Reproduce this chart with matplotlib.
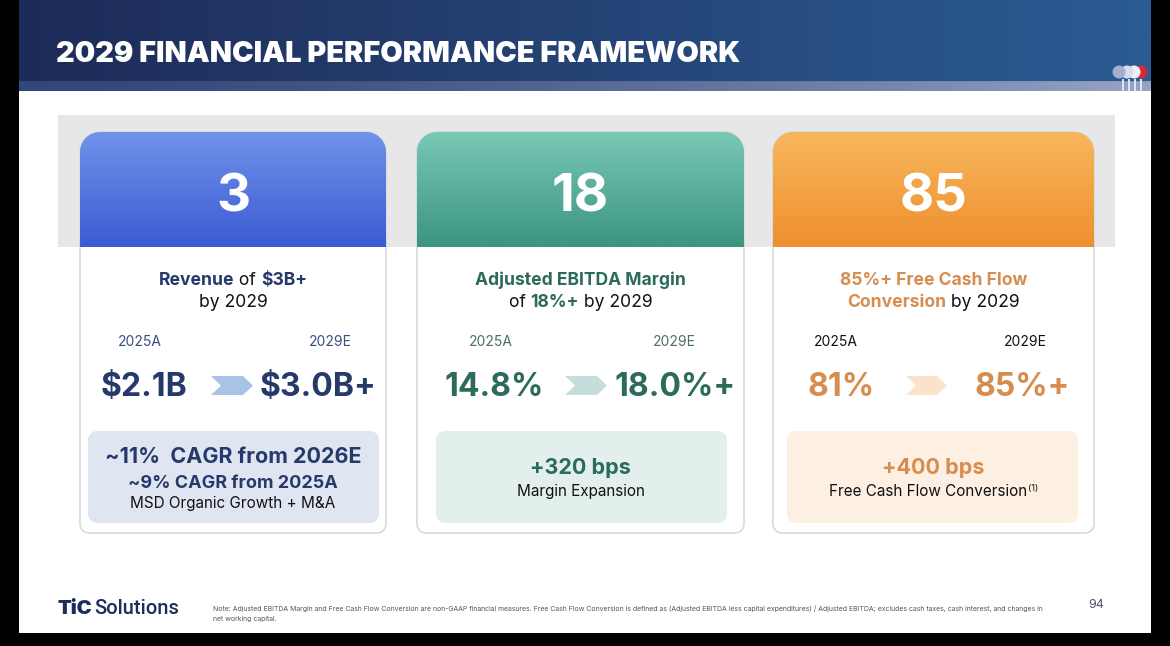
import numpy as np
import matplotlib
matplotlib.use("Agg")
import matplotlib.pyplot as plt
from matplotlib.patches import PathPatch, Polygon, Rectangle, Circle
from matplotlib.path import Path
from matplotlib import font_manager

W, H = 1170, 646

# slide content
slide_title = "2029 FINANCIAL PERFORMANCE FRAMEWORK"
big_numbers = ["3", "18", "85"]
year_labels = ["2025A", "2029E"]
start_values = ["$2.1B", "14.8%", "81%"]
end_values = ["$3.0B+", "18.0%+", "85%+"]

# headline lines per card: (text, bold?, accent?)
headline_1 = [[("Revenue", True, True), (" of ", False, False), ("$3B+", True, True)],
              [("by 2029", False, False)]]
headline_2 = [[("Adjusted EBITDA Margin", True, True)],
              [("of ", False, False), ("18%+", True, True), (" by 2029", False, False)]]
headline_3 = [[("85%+ Free Cash Flow", True, True)],
              [("Conversion", True, True), (" by 2029", False, False)]]
headlines = [headline_1, headline_2, headline_3]

# bottom box lines per card: (text, size, bold?, accent?, baseline)
box_1 = [("~11%  CAGR from 2026E", 15.5, True, True, 463),
         ("~9% CAGR from 2025A", 13, True, True, 488),
         ("MSD Organic Growth + M&A", 11, False, False, 508)]
box_2 = [("+320 bps", 15.5, True, True, 474),
         ("Margin Expansion", 11, False, False, 496)]
box_3 = [("+400 bps", 15.5, True, True, 474),
         ("Free Cash Flow Conversion", 11, False, False, 496)]
boxes = [box_1, box_2, box_3]

footnote = ["Note: Adjusted EBITDA Margin and Free Cash Flow Conversion are non-GAAP financial measures. "
            "Free Cash Flow Conversion is defined as (Adjusted EBITDA less capital expenditures) / Adjusted EBITDA; "
            "excludes cash taxes, cash interest, and changes in",
            "net working capital."]
page_number = "94"

# layout / styling
card_x0 = [80, 417, 773]
card_x1 = [386, 744, 1094]
card_top, head_bot, card_bot = 132, 247, 533
box_x = [(88, 379), (436, 727), (787, 1078)]
head_top_col = ["#7092ea", "#78c8b5", "#f7b65c"]
head_bot_col = ["#3b5bd3", "#3c957e", "#ee902f"]
accent = ["#27396b", "#2c6a5b", "#d68d4f"]
year_col = ["#3b4e80", "#4b6f66", "#111111"]
chev_col = ["#a9c3e7", "#c6dedb", "#fbe3cb"]
box_col = ["#dfe6f2", "#e3efec", "#fdf0e2"]
start_cx = [144, 494, 841]
end_cx = [318, 675, 1022]
chev_x = [(211, 253), (565, 607), (906, 947)]
year_cx = [(140, 330), (491, 674), (836, 1025)]

names = {f.name for f in font_manager.fontManager.ttflist}
body_font = "Inter" if "Inter" in names else "DejaVu Sans"
heavy = [f.name for f in font_manager.fontManager.ttflist
         if f.name in ("Lato", "Roboto", "Inter", "Open Sans") and f.weight in (800, 900, "black", "heavy")
         and f.style == "normal"]
title_font = heavy[0] if heavy else "Roboto"
title_weight = "black" if heavy else "bold"
plt.rcParams["font.family"] = [body_font, "DejaVu Sans"]

fig = plt.figure(figsize=(W / 100, H / 100), dpi=100, facecolor="black")
ax = fig.add_axes([0, 0, 1, 1])
ax.set_xlim(0, W)
ax.set_ylim(H, 0)
ax.axis("off")
fig.canvas.draw()
rend = fig.canvas.get_renderer()


def hex2rgb(c):
    return np.array(matplotlib.colors.to_rgb(c))


def round_rect(x0, y0, x1, y1, rt, rb):
    def arc(cx, cy, r, a0, a1):
        a = np.linspace(a0, a1, 16)
        return np.c_[cx + r * np.cos(a), cy + r * np.sin(a)]
    pts = np.vstack([arc(x0 + rt, y0 + rt, rt, np.pi, 1.5 * np.pi),
                     arc(x1 - rt, y0 + rt, rt, 1.5 * np.pi, 2 * np.pi),
                     arc(x1 - rb, y1 - rb, rb, 0, 0.5 * np.pi),
                     arc(x0 + rb, y1 - rb, rb, 0.5 * np.pi, np.pi)])
    return Path(np.vstack([pts, pts[:1]]), closed=True)


def text_width(s, **kw):
    t1 = ax.text(0, 0, "X" + s + "X", **kw)
    t2 = ax.text(0, 0, "XX", **kw)
    w = t1.get_window_extent(rend).width - t2.get_window_extent(rend).width
    t1.remove()
    t2.remove()
    return w


def rich_line(cx, y, parts, size, color_acc, color_plain="#111111", left=False):
    kws = []
    for txt, bold, acc in parts:
        kws.append(dict(fontsize=size, fontweight="bold" if bold else "normal",
                        color=color_acc if acc else color_plain))
    widths = [text_width(p[0], **k) for p, k in zip(parts, kws)]
    x = cx if left else cx - sum(widths) / 2
    for (txt, _, _), k, w in zip(parts, kws, widths):
        ax.text(x, y, txt, ha="left", va="baseline", **k)
        x += w
    return x


# slide background (black frame around)
ax.add_patch(Rectangle((19, 0), 1132, 633, facecolor="white", edgecolor="none", zorder=0))

# header band with gradient
nx, ny = 300, 92
gx = np.linspace(0, 1, nx)[None, :, None]
left_c, right_c = hex2rgb("#1e2b58"), hex2rgb("#2b5c93")
head = np.repeat(left_c + (right_c - left_c) * gx, ny, axis=0)
strip_l, strip_r = hex2rgb("#33487a"), hex2rgb("#97a4c4")
head[82:] = (strip_l + (strip_r - strip_l) * gx ** 1.5)[0]
ax.imshow(head, extent=(19, 1151, 91, 0), aspect="auto", zorder=1, interpolation="bilinear")

tkw = dict(fontweight=title_weight, family=[title_font, "DejaVu Sans"])
tsize = 24 * 684 / text_width(slide_title, fontsize=24, **tkw)
ax.text(56, 62, slide_title, ha="left", va="baseline", color="white",
        fontsize=tsize, zorder=3, **tkw)

# small logo mark in header corner
for i, (cx, col) in enumerate(zip([1141, 1134, 1127, 1119], ["#d42a3a", "#eef0f6", "#d7dcea", "#a3afcc"])):
    ax.add_patch(Circle((cx, 72), 6.5, facecolor=col, edgecolor="none", zorder=3 + i))
for bx in [1122, 1128, 1134, 1140]:
    ax.add_patch(Rectangle((bx, 79), 2.2, 12, facecolor="#dfe3ee", edgecolor="none", zorder=3))

# speckled gray band behind the card headers
ax.add_patch(Rectangle((58, 115), 1057, 132, facecolor="#e7e7e7", edgecolor="none", zorder=1))

for i in range(3):
    x0, x1 = card_x0[i], card_x1[i]
    cx = (x0 + x1) / 2
    # card body
    body = PathPatch(round_rect(x0, card_top, x1, card_bot, 20, 9), facecolor="white",
                     edgecolor="#d6d9df", lw=1.2, zorder=2)
    ax.add_patch(body)
    # coloured header with vertical gradient
    hp = PathPatch(round_rect(x0, card_top, x1, head_bot, 20, 0.01), facecolor="none",
                   edgecolor="none", zorder=3)
    ax.add_patch(hp)
    gy = np.linspace(0, 1, 100)[:, None, None]
    c0, c1 = hex2rgb(head_top_col[i]), hex2rgb(head_bot_col[i])
    grad = np.repeat(c0 + (c1 - c0) * gy, 10, axis=1)
    im = ax.imshow(grad, extent=(x0, x1, head_bot, card_top), aspect="auto", zorder=3,
                   interpolation="bilinear")
    im.set_clip_path(hp)

    ax.text(cx, 212, big_numbers[i], ha="center", va="baseline", color="white",
            fontsize=38, fontweight="bold", zorder=4)

    # headline
    for line, base in zip(headlines[i], [285, 307]):
        rich_line(cx, base, line, 12.6, accent[i])

    # year labels and values
    for lab, yx in zip(year_labels, year_cx[i]):
        ax.text(yx, 346, lab, ha="center", va="baseline", fontsize=10, color=year_col[i])
    ax.text(start_cx[i], 396, start_values[i], ha="center", va="baseline", fontsize=23,
            fontweight="bold", color=accent[i])
    ax.text(end_cx[i], 396, end_values[i], ha="center", va="baseline", fontsize=23,
            fontweight="bold", color=accent[i])
    a, b = chev_x[i]
    n = 10
    ax.add_patch(Polygon([(a, 376), (b - n, 376), (b, 385.5), (b - n, 395), (a, 395), (a + n, 385.5)],
                         closed=True, facecolor=chev_col[i], edgecolor="none", zorder=3))

    # bottom box
    bx0, bx1 = box_x[i]
    ax.add_patch(PathPatch(round_rect(bx0, 431, bx1, 523, 9, 9), facecolor=box_col[i],
                           edgecolor="none", zorder=3))
    for txt, size, bold, acc, base in boxes[i]:
        if i == 2 and not bold:
            end = rich_line(cx - 5, base, [(txt, False, False)], size, accent[i])
            ax.text(end + 0.5, base - 5, "(1)", ha="left", va="baseline", fontsize=6.5, color="#111111")
        else:
            rich_line(cx, base, [(txt, bold, acc)], size, accent[i])

# footer logo
ax.text(57, 614, "TiC", ha="left", va="baseline", fontsize=14.5, color="#1c2c5c",
        fontweight=title_weight, family=[title_font, "DejaVu Sans"])
tic_w = text_width("TiC", fontsize=14.5, fontweight=title_weight, family=[title_font, "DejaVu Sans"])
ax.text(57 + tic_w + 3, 614, "Solutions", ha="left", va="baseline", fontsize=14.5, fontweight="medium",
        color="#1c2c5c", family=["Roboto", "DejaVu Sans"])
ax.text(213, 611.5, footnote[0], ha="left", va="baseline", fontsize=4.98, color="#555555")
ax.text(213, 621, footnote[1], ha="left", va="baseline", fontsize=4.98, color="#555555")
ax.text(1096, 608, page_number, ha="center", va="baseline", fontsize=9, color="#4d5568")

ax.set_xlim(0, W)
ax.set_ylim(H, 0)
fig.savefig("out.png", dpi=100, facecolor="black")
